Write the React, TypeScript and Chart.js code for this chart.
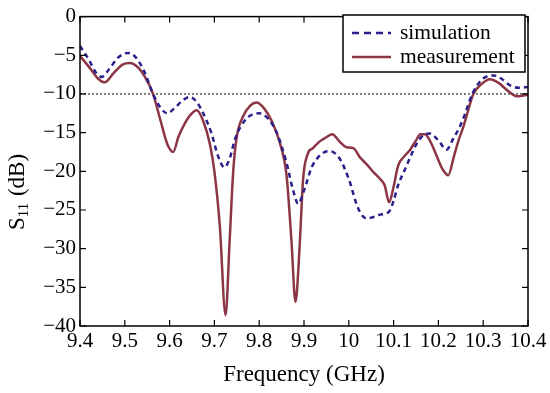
import React, { useEffect, useRef } from "react";
import { Chart, registerables } from "chart.js";

Chart.register(...registerables);

const simFreq = [
  9.4, 9.42, 9.435, 9.448, 9.465, 9.485, 9.507, 9.525, 9.545, 9.563, 9.58, 9.595, 9.61, 9.628, 9.645, 9.66,
  9.675, 9.693, 9.708, 9.722, 9.735, 9.745, 9.757, 9.775, 9.8, 9.82, 9.839, 9.861, 9.875, 9.887, 9.9, 9.917,
  9.93, 9.943, 9.958, 9.98, 10.0, 10.021, 10.04, 10.055, 10.07, 10.09, 10.1, 10.11, 10.125, 10.137, 10.15,
  10.163, 10.18, 10.2, 10.218, 10.233, 10.248, 10.26, 10.27, 10.283, 10.3, 10.323, 10.34, 10.36, 10.38, 10.4,
];
const simValues = [
  -3.8, -5.6, -7.2, -7.8, -6.8, -5.3, -4.7, -5.3, -7.3, -10.0, -11.8, -12.5, -11.9, -10.9, -10.4, -11.0,
  -12.5, -15.0, -18.0, -19.5, -18.2, -16.0, -14.4, -13.0, -12.5, -13.2, -15.0, -18.9, -22.3, -24.2, -22.5, -19.5,
  -18.3, -17.6, -17.4, -18.4, -21.0, -24.8, -26.1, -25.9, -25.6, -25.2, -23.8, -21.8, -19.8, -18.2, -16.6,
  -15.5, -15.1, -16.0, -17.2, -15.8, -14.2, -12.5, -10.8, -9.2, -8.0, -7.6, -8.0, -8.9, -9.2, -9.1,
];

const measFreq = [
  9.4, 9.42, 9.44, 9.455, 9.475, 9.495, 9.511, 9.53, 9.545, 9.563, 9.58, 9.595, 9.608, 9.62, 9.634, 9.648,
  9.661, 9.675, 9.69, 9.7, 9.712, 9.725, 9.734, 9.742, 9.75, 9.765, 9.78, 9.794, 9.81, 9.828, 9.846, 9.861,
  9.872, 9.881, 9.89, 9.898, 9.908, 9.92, 9.936, 9.95, 9.963, 9.98, 9.995, 10.01, 10.025, 10.04, 10.055,
  10.07, 10.08, 10.09, 10.1, 10.11, 10.125, 10.137, 10.15, 10.16, 10.17, 10.185, 10.196, 10.21, 10.222,
  10.235, 10.245, 10.256, 10.268, 10.278, 10.295, 10.315, 10.335, 10.355, 10.375, 10.39, 10.4,
];
const measValues = [
  -5.1, -6.5, -8.0, -8.5, -7.3, -6.2, -6.0, -6.6, -7.8, -10.0, -13.5, -16.5, -17.5, -15.5, -13.8, -12.6,
  -12.1, -13.5, -16.5, -20.0, -27.0, -38.6, -29.0, -20.0, -15.5, -12.8, -11.5, -11.1, -11.8, -13.5, -16.3, -20.5,
  -29.0, -36.9, -30.0, -21.0, -17.8, -17.0, -16.1, -15.6, -15.2, -16.2, -16.9, -17.0, -18.2, -19.1, -20.1,
  -21.0, -21.8, -24.0, -22.0, -19.3, -18.0, -17.2, -16.0, -15.2, -15.2, -16.5, -18.0, -19.8, -20.5,
  -18.0, -16.0, -14.2, -11.8, -10.0, -8.8, -8.1, -8.6, -9.6, -10.3, -10.2, -10.1,
];

const xTicks = [9.4, 9.5, 9.6, 9.7, 9.8, 9.9, 10.0, 10.1, 10.2, 10.3, 10.4];
const yTicks = [0, -5, -10, -15, -20, -25, -30, -35, -40];
const thresholdDb = -10;
const seriesNames = ["simulation", "measurement"];
const xTitle = "Frequency (GHz)";
const yTitleMain = "S";
const yTitleSub = "11";
const yTitleUnit = " (dB)";

const SIM_COLOR = "#2b1f8c";
const MEAS_COLOR = "#8c3645";
const FONT = "'Liberation Serif', 'DejaVu Serif', serif";

const decorPlugin = {
  id: "decor",
  beforeDatasetsDraw(chart: any) {
    const { ctx, chartArea: a, scales } = chart;
    const y = scales.y.getPixelForValue(thresholdDb);
    ctx.save();
    ctx.strokeStyle = "#000";
    ctx.lineWidth = 1;
    ctx.setLineDash([2, 2]);
    ctx.beginPath();
    ctx.moveTo(a.left, y);
    ctx.lineTo(a.right, y);
    ctx.stroke();
    ctx.restore();
  },
  afterDraw(chart: any) {
    const { ctx, chartArea: a, scales } = chart;
    ctx.save();
    // frame
    ctx.strokeStyle = "#000";
    ctx.lineWidth = 1.5;
    ctx.setLineDash([]);
    ctx.strokeRect(a.left, a.top, a.right - a.left, a.bottom - a.top);
    // inward ticks
    const tl = 6;
    ctx.lineWidth = 1.2;
    ctx.beginPath();
    xTicks.forEach((v) => {
      const x = scales.x.getPixelForValue(v);
      ctx.moveTo(x, a.bottom);
      ctx.lineTo(x, a.bottom - tl);
      ctx.moveTo(x, a.top);
      ctx.lineTo(x, a.top + tl);
    });
    yTicks.forEach((v) => {
      const y = scales.y.getPixelForValue(v);
      ctx.moveTo(a.left, y);
      ctx.lineTo(a.left + tl, y);
      ctx.moveTo(a.right, y);
      ctx.lineTo(a.right - tl, y);
    });
    ctx.stroke();

    // x title
    ctx.fillStyle = "#000";
    ctx.font = `23px ${FONT}`;
    ctx.textAlign = "center";
    ctx.textBaseline = "middle";
    ctx.fillText(xTitle, (a.left + a.right) / 2, 375);

    // y title (rotated) with subscript
    ctx.save();
    ctx.translate(18, 192);
    ctx.rotate(-Math.PI / 2);
    ctx.textBaseline = "middle";
    ctx.textAlign = "left";
    ctx.font = `23px ${FONT}`;
    const wS = ctx.measureText(yTitleMain).width;
    ctx.font = `15px ${FONT}`;
    const wSub = ctx.measureText(yTitleSub).width;
    ctx.font = `23px ${FONT}`;
    const wU = ctx.measureText(yTitleUnit).width;
    const total = wS + wSub + 1 + wU;
    let x0 = -total / 2;
    ctx.fillText(yTitleMain, x0, 0);
    x0 += wS;
    ctx.font = `15px ${FONT}`;
    ctx.fillText(yTitleSub, x0, 6);
    x0 += wSub + 1;
    ctx.font = `23px ${FONT}`;
    ctx.fillText(yTitleUnit, x0, 0);
    ctx.restore();

    // legend
    const lx = 343, ly = 15, lw = 182, lh = 57;
    ctx.fillStyle = "#fff";
    ctx.fillRect(lx, ly, lw, lh);
    ctx.strokeStyle = "#000";
    ctx.lineWidth = 1.5;
    ctx.strokeRect(lx, ly, lw, lh);
    const rows = [
      { y: 33, color: SIM_COLOR, dash: [7, 5] },
      { y: 57, color: MEAS_COLOR, dash: [] as number[] },
    ];
    rows.forEach((r, i) => {
      ctx.strokeStyle = r.color;
      ctx.lineWidth = 2.5;
      ctx.setLineDash(r.dash);
      ctx.beginPath();
      ctx.moveTo(352, r.y);
      ctx.lineTo(391, r.y);
      ctx.stroke();
      ctx.setLineDash([]);
      ctx.fillStyle = "#000";
      ctx.font = `21.5px ${FONT}`;
      ctx.textAlign = "left";
      ctx.textBaseline = "middle";
      ctx.fillText(seriesNames[i], 400, r.y);
    });
    ctx.restore();
  },
};

export default function App() {
  const ref = useRef<HTMLCanvasElement | null>(null);
  useEffect(() => {
    if (!ref.current) return;
    const chart = new Chart(ref.current, {
      type: "line",
      data: {
        datasets: [
          {
            label: seriesNames[0],
            data: simFreq.map((f, i) => ({ x: f, y: simValues[i] })),
            borderColor: SIM_COLOR,
            borderWidth: 2.5,
            borderDash: [5, 4],
            pointRadius: 0,
            cubicInterpolationMode: "monotone",
            fill: false,
          },
          {
            label: seriesNames[1],
            data: measFreq.map((f, i) => ({ x: f, y: measValues[i] })),
            borderColor: MEAS_COLOR,
            borderWidth: 2.5,
            pointRadius: 0,
            cubicInterpolationMode: "monotone",
            fill: false,
          },
        ],
      },
      options: {
        responsive: false,
        animation: false,
        layout: { padding: { top: 12, right: 22, left: 0, bottom: 0 } },
        plugins: { legend: { display: false }, tooltip: { enabled: false } },
        scales: {
          x: {
            type: "linear",
            min: 9.4,
            max: 10.4,
            afterBuildTicks: (s: any) => {
              s.ticks = xTicks.map((v) => ({ value: v }));
            },
            afterFit: (s: any) => {
              s.height = 67;
            },
            ticks: {
              color: "#000",
              font: { family: FONT, size: 21 },
              padding: 3,
              maxRotation: 0,
              autoSkip: false,
              callback: (v: any) => Number(Number(v).toFixed(1)).toString(),
            },
            grid: { display: false, drawTicks: false },
            border: { display: false },
          },
          y: {
            type: "linear",
            min: -40,
            max: 0,
            afterBuildTicks: (s: any) => {
              s.ticks = yTicks.map((v) => ({ value: v }));
            },
            afterFit: (s: any) => {
              s.width = 80;
            },
            ticks: {
              color: "#000",
              font: { family: FONT, size: 21 },
              padding: 4,
              autoSkip: false,
              callback: (v: any) => (Number(v) < 0 ? "\u2212" + Math.abs(Number(v)) : "0"),
            },
            grid: { display: false, drawTicks: false },
            border: { display: false },
          },
        },
      },
      plugins: [decorPlugin],
    });
    return () => chart.destroy();
  }, []);
  return (
    <div style={{ position: "absolute", left: 0, top: 0, width: 550, height: 393, background: "#fff" }}>
      <canvas ref={ref} width={550} height={393} />
    </div>
  );
}
